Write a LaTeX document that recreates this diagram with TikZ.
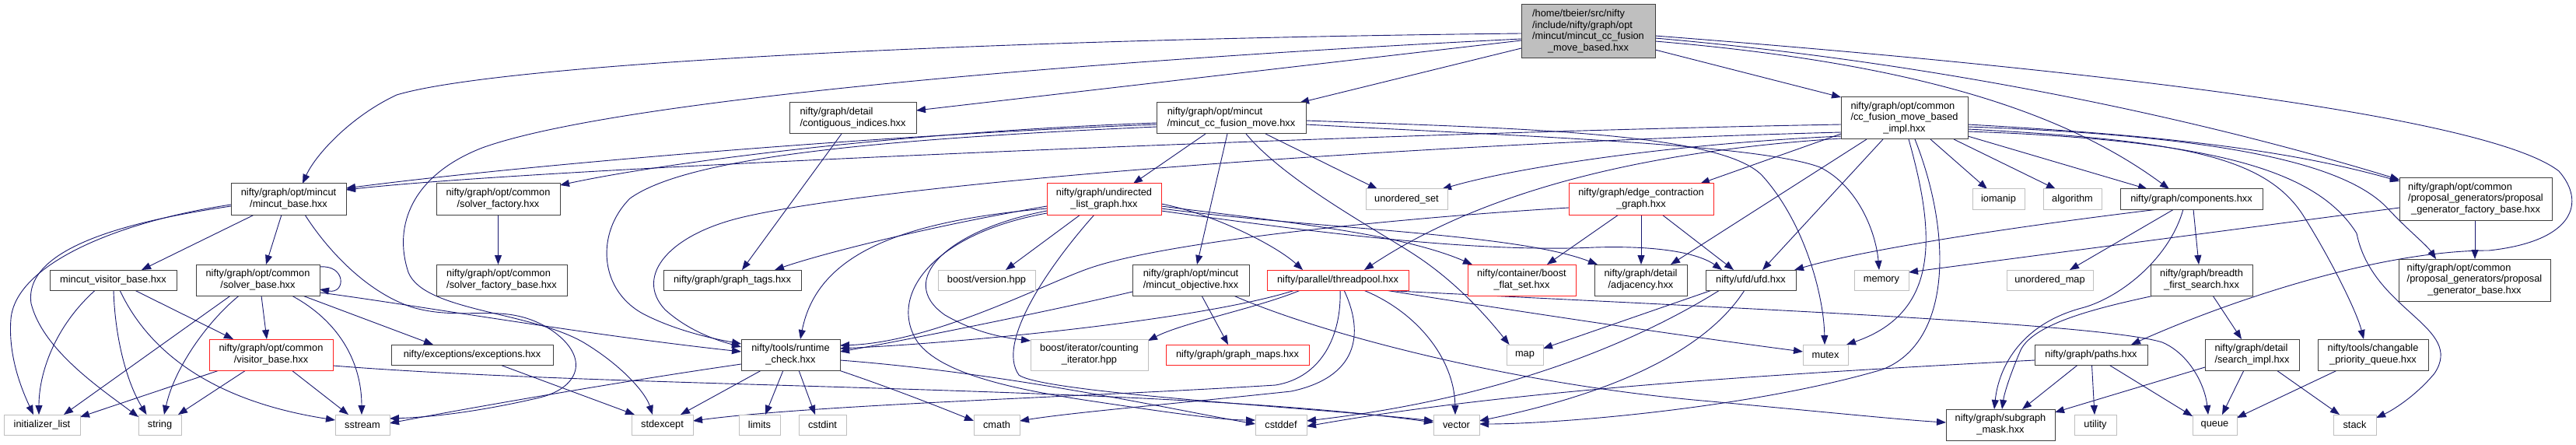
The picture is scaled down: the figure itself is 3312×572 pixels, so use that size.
\documentclass[tikz,border=0pt]{standalone}
\usepackage{fontspec}
\setmainfont{Liberation Sans}
\usetikzlibrary{arrows.meta}
\definecolor{edc}{HTML}{191970}
\definecolor{ndc}{HTML}{404040}
\definecolor{syc}{HTML}{BFBFBF}
\definecolor{rdc}{HTML}{FF2020}
\newcommand\nfont{\fontsize{12.8}{14.7}\selectfont}
\newcommand\lbltwo[2]{\begin{tabular}{@{}l@{}}#1\\\multicolumn{1}{@{}c@{}}{#2}\end{tabular}}
\newcommand\lblthree[3]{\begin{tabular}{@{}l@{}}#1\\#2\\\multicolumn{1}{@{}c@{}}{#3}\end{tabular}}
\newcommand\lblfour[4]{\begin{tabular}{@{}l@{}}#1\\#2\\#3\\\multicolumn{1}{@{}c@{}}{#4}\end{tabular}}
\pgfdeclarelayer{bg}
\pgfsetlayers{bg,main}
\begin{document}
\begin{tikzpicture}[x=1pt,y=-1pt,
  box/.style={rectangle,inner sep=0pt,outer sep=0pt,line width=1pt,fill=white,font=\nfont},
  nbox/.style={box,draw=ndc},
  rbox/.style={box,draw=rdc},
  sbox/.style={box,draw=syc},
  rootbox/.style={box,draw=ndc,fill=syc},
  wh/.style 2 args={minimum width=#1pt,minimum height=#2pt},
  edg/.style={draw=edc,line width=0.9pt,-{Triangle[length=12pt,width=9pt]}}]
\useasboundingbox (0,0) rectangle (3312,572);
% nodes
\node[rootbox,wh={172}{69}] (root) at (2042,40.5) {\lblfour{/home/tbeier/src/nifty}{/include/nifty/graph/opt}{/mincut/mincut\_cc\_fusion}{\_move\_based.hxx}};
\node[nbox,wh={163}{40}] (ctg) at (1096.5,152) {\lbltwo{nifty/graph/detail}{/contiguous\_indices.hxx}};
\node[nbox,wh={192}{40}] (mcfm) at (1583,152) {\lbltwo{nifty/graph/opt/mincut}{/mincut\_cc\_fusion\_move.hxx}};
\node[nbox,wh={163}{54}] (impl) at (2448.5,152) {\lblthree{nifty/graph/opt/common}{/cc\_fusion\_move\_based}{\_impl.hxx}};
\node[nbox,wh={196}{54}] (pgfb) at (3183,256) {\lblthree{nifty/graph/opt/common}{/proposal\_generators/proposal}{\_generator\_factory\_base.hxx}};
\node[nbox,wh={148}{40}] (mb) at (371,256) {\lbltwo{nifty/graph/opt/mincut}{/mincut\_base.hxx}};
\node[nbox,wh={159}{40}] (sf) at (640.5,256) {\lbltwo{nifty/graph/opt/common}{/solver\_factory.hxx}};
\node[rbox,wh={147}{40}] (ulg) at (1419.5,256) {\lbltwo{nifty/graph/undirected}{\_list\_graph.hxx}};
\node[sbox,wh={105}{26}] (us) at (1808.5,256) {unordered\_set};
\node[rbox,wh={186}{40}] (ec) at (2110,256) {\lbltwo{nifty/graph/edge\_contraction}{\_graph.hxx}};
\node[sbox,wh={67}{26}] (io) at (2569.5,256) {iomanip};
\node[sbox,wh={75}{26}] (alg) at (2664.5,256) {algorithm};
\node[nbox,wh={183}{26}] (comp) at (2817.5,256) {nifty/graph/components.hxx};
\node[nbox,wh={163}{26}] (mvb) at (145.5,360) {mincut\_visitor\_base.hxx};
\node[nbox,wh={159}{40}] (sb) at (331.5,360) {\lbltwo{nifty/graph/opt/common}{/solver\_base.hxx}};
\node[rbox,wh={159}{40}] (vb) at (348.5,456) {\lbltwo{nifty/graph/opt/common}{/visitor\_base.hxx}};
\node[nbox,wh={208}{26}] (exc) at (607,456) {nifty/exceptions/exceptions.hxx};
\node[sbox,wh={98}{26}] (il) at (54,546) {initializer\_list};
\node[sbox,wh={55}{26}] (str) at (205.5,546) {string};
\node[sbox,wh={70}{26}] (ss) at (466,546) {sstream};
\node[nbox,wh={168}{40}] (sfb) at (645,360) {\lbltwo{nifty/graph/opt/common}{/solver\_factory\_base.hxx}};
\node[nbox,wh={177}{26}] (gt) at (941.5,360) {nifty/graph/graph\_tags.hxx};
\node[nbox,wh={127}{40}] (rc) at (1016.5,456) {\lbltwo{nifty/tools/runtime}{\_check.hxx}};
\node[sbox,wh={79}{26}] (sx) at (851.5,546) {stdexcept};
\node[sbox,wh={53}{26}] (lim) at (976.5,546) {limits};
\node[sbox,wh={61}{26}] (cint) at (1057.5,546) {cstdint};
\node[sbox,wh={125}{26}] (bv) at (1268.5,360) {boost/version.hpp};
\node[nbox,wh={150}{40}] (mo) at (1531,360) {\lbltwo{nifty/graph/opt/mincut}{/mincut\_objective.hxx}};
\node[sbox,wh={151}{40}] (cnt) at (1400.5,456) {\lbltwo{boost/iterator/counting}{\_iterator.hpp}};
\node[rbox,wh={184}{26}] (gm) at (1591,456) {nifty/graph/graph\_maps.hxx};
\node[rbox,wh={182}{26}] (tp) at (1720,360) {nifty/parallel/threadpool.hxx};
\node[sbox,wh={59}{26}] (cm) at (1281.5,546) {cmath};
\node[sbox,wh={66}{26}] (cd) at (1647,546) {cstddef};
\node[rbox,wh={139}{40}] (bfset) at (1956.5,360) {\lbltwo{nifty/container/boost}{\_flat\_set.hxx}};
\node[nbox,wh={119}{40}] (adj) at (2109.5,360) {\lbltwo{nifty/graph/detail}{/adjacency.hxx}};
\node[sbox,wh={47}{26}] (map) at (1960.5,456) {map};
\node[sbox,wh={59}{26}] (vec) at (1872.5,546) {vector};
\node[nbox,wh={116}{26}] (ufd) at (2251,360) {nifty/ufd/ufd.hxx};
\node[sbox,wh={70}{26}] (mem) at (2419,360) {memory};
\node[sbox,wh={111}{26}] (um) at (2635.5,360) {unordered\_map};
\node[sbox,wh={58}{26}] (mtx) at (2347,456) {mutex};
\node[nbox,wh={145}{26}] (paths) at (2688.5,456) {nifty/graph/paths.hxx};
\node[nbox,wh={140}{40}] (sgm) at (2572,546) {\lbltwo{nifty/graph/subgraph}{\_mask.hxx}};
\node[sbox,wh={54}{26}] (ut) at (2694,546) {utility};
\node[nbox,wh={131}{40}] (bfs) at (2830.5,360) {\lbltwo{nifty/graph/breadth}{\_first\_search.hxx}};
\node[nbox,wh={195}{54}] (pgb) at (3181.5,360) {\lblthree{nifty/graph/opt/common}{/proposal\_generators/proposal}{\_generator\_base.hxx}};
\node[nbox,wh={121}{40}] (si) at (2895.5,456) {\lbltwo{nifty/graph/detail}{/search\_impl.hxx}};
\node[nbox,wh={142}{40}] (cpq) at (3051,456) {\lbltwo{nifty/tools/changable}{\_priority\_queue.hxx}};
\node[sbox,wh={57}{26}] (q) at (2847.5,546) {queue};
\node[sbox,wh={55}{26}] (st) at (3027.5,546) {stack};
\begin{pgfonlayer}{bg}
\fill[white] (0,0) rectangle (3312,572);
% root
\draw[edg] ([shift={(-86,2.5)}]root.center) .. controls (1300,50) and (650,80) .. (510,122) .. controls (450,150) and (405,200) .. ([shift={(18,-20)}]mb.center);
\draw[edg] ([shift={(-86,11.5)}]root.center) -- ([shift={(81.5,-10)}]ctg.center);
\draw[edg] ([shift={(-86,21.5)}]root.center) -- ([shift={(88,-20)}]mcfm.center);
\draw[edg] ([shift={(-86,9.5)}]root.center) .. controls (1450,75) and (800,125) .. (620,190) .. controls (530,225) and (505,290) .. (525,350) .. controls (545,400) and (680,400) .. (750,440) .. controls (800,470) and (830,505) .. ([shift={(-12.5,-13)}]sx.center);
\draw[edg] ([shift={(86,23.5)}]root.center) -- ([shift={(-81.5,-27)}]impl.center);
\draw[edg] ([shift={(86,12.5)}]root.center) .. controls (2450,80) and (2650,140) .. ([shift={(-28.5,-13)}]comp.center);
\draw[edg] ([shift={(86,8.5)}]root.center) .. controls (2600,90) and (2950,190) .. ([shift={(-98,-25)}]pgfb.center);
\draw[edg] ([shift={(86,5.5)}]root.center) .. controls (2700,90) and (3200,150) .. (3290,220) .. controls (3325,260) and (3310,310) .. (3200,322) .. controls (3060,322) and (2870,385) .. ([shift={(51.5,-13)}]paths.center);
% contiguous
\draw[edg] ([shift={(-14.5,20)}]ctg.center) -- ([shift={(12.5,-13)}]gt.center);
% mcfm
\draw[edg] ([shift={(-96,8)}]mcfm.center) .. controls (1100,175) and (650,215) .. ([shift={(74,-14)}]mb.center);
\draw[edg] ([shift={(-96,6)}]mcfm.center) .. controls (1150,170) and (850,210) .. ([shift={(79.5,-18)}]sf.center);
\draw[edg] ([shift={(-96,11)}]mcfm.center) .. controls (1100,180) and (880,205) .. (810,255) .. controls (765,300) and (770,375) .. (830,405) .. controls (870,425) and (915,435) .. ([shift={(-63.5,-14)}]rc.center);
\draw[edg] ([shift={(-33,20)}]mcfm.center) -- ([shift={(37.5,-20)}]ulg.center);
\draw[edg] ([shift={(-5,20)}]mcfm.center) -- ([shift={(8,-20)}]mo.center);
\draw[edg] ([shift={(19,20)}]mcfm.center) .. controls (1650,230) and (1760,290) .. (1815,325) .. controls (1870,360) and (1910,405) .. ([shift={(-20,-13)}]map.center);
\draw[edg] ([shift={(44,20)}]mcfm.center) -- ([shift={(-37.5,-13)}]us.center);
\draw[edg] ([shift={(96,3)}]mcfm.center) .. controls (1950,165) and (2210,170) .. (2265,225) .. controls (2320,285) and (2345,380) .. ([shift={(-1,-13)}]mtx.center);
\draw[edg] ([shift={(96,8)}]mcfm.center) .. controls (1950,175) and (2260,185) .. (2340,215) .. controls (2390,240) and (2412,300) .. ([shift={(-3,-13)}]mem.center);
% impl
\draw[edg] ([shift={(-81.5,8)}]impl.center) .. controls (1800,170) and (700,215) .. ([shift={(74,-12)}]mb.center);
\draw[edg] ([shift={(-81.5,18)}]impl.center) .. controls (1800,185) and (1150,235) .. (960,278) .. controls (860,300) and (815,355) .. (855,398) .. controls (885,425) and (920,437) .. ([shift={(-63.5,-10)}]rc.center);
\draw[edg] ([shift={(-81.5,26)}]impl.center) .. controls (2100,195) and (1900,250) .. ([shift={(34,-13)}]tp.center);
\draw[edg] ([shift={(-81.5,23)}]impl.center) .. controls (2150,185) and (1950,215) .. ([shift={(45.5,-13)}]us.center);
\draw[edg] ([shift={(-81.5,20)}]impl.center) -- ([shift={(76,-20)}]ec.center);
\draw[edg] ([shift={(-48.5,27)}]impl.center) -- ([shift={(38.5,-20)}]adj.center);
\draw[edg] ([shift={(-27.5,27)}]impl.center) -- ([shift={(15,-13)}]ufd.center);
\draw[edg] ([shift={(5.5,27)}]impl.center) .. controls (2485,290) and (2500,400) .. ([shift={(27,-13)}]mtx.center);
\draw[edg] ([shift={(13.5,27)}]impl.center) .. controls (2510,300) and (2510,440) .. (2420,475) .. controls (2250,525) and (2000,545) .. ([shift={(29.5,-1)}]vec.center);
\draw[edg] ([shift={(33.5,27)}]impl.center) -- ([shift={(-14.5,-13)}]io.center);
\draw[edg] ([shift={(63.5,27)}]impl.center) -- ([shift={(-21.5,-13)}]alg.center);
\draw[edg] ([shift={(81.5,23)}]impl.center) -- ([shift={(-56.5,-13)}]comp.center);
\draw[edg] ([shift={(81.5,8)}]impl.center) .. controls (2800,175) and (2950,195) .. ([shift={(-98,-23)}]pgfb.center);
\draw[edg] ([shift={(81.5,11)}]impl.center) .. controls (2880,175) and (3020,215) .. (3070,268) .. controls (3095,295) and (3120,315) .. ([shift={(-49.5,-27)}]pgb.center);
\draw[edg] ([shift={(81.5,14)}]impl.center) .. controls (2800,180) and (2910,200) .. (2960,275) .. controls (2995,330) and (3030,400) .. ([shift={(-12,-20)}]cpq.center);
\draw[edg] ([shift={(81.5,17)}]impl.center) .. controls (2850,180) and (2980,220) .. (3030,300) .. controls (3050,400) and (3170,420) .. (3130,480) .. controls (3105,510) and (3075,528) .. ([shift={(27.5,-9)}]st.center);
% mincut_base
\draw[edg] ([shift={(-44,20)}]mb.center) -- ([shift={(36.5,-13)}]mvb.center);
\draw[edg] ([shift={(-9,20)}]mb.center) -- ([shift={(10.5,-20)}]sb.center);
\draw[edg] ([shift={(-74,7)}]mb.center) .. controls (150,285) and (20,340) .. (14,410) .. controls (10,460) and (30,505) .. ([shift={(-11,-13)}]il.center);
\draw[edg] ([shift={(-74,9)}]mb.center) .. controls (160,285) and (30,320) .. (40,390) .. controls (55,450) and (130,500) .. ([shift={(-27.5,-10)}]str.center);
\draw[edg] ([shift={(21,20)}]mb.center) .. controls (420,320) and (470,375) .. (530,395) .. controls (600,415) and (650,385) .. (710,425) .. controls (760,460) and (745,500) .. (690,512) .. controls (620,528) and (560,536) .. ([shift={(35,-8)}]ss.center);
% solver_factory
\draw[edg] ([shift={(0,20)}]sf.center) -- ([shift={(-4.5,-20)}]sfb.center);
% undirected list graph
\draw[edg] ([shift={(-73.5,9)}]ulg.center) .. controls (1200,290) and (1060,325) .. ([shift={(54.5,-13)}]gt.center);
\draw[edg] ([shift={(-73.5,12)}]ulg.center) .. controls (1150,285) and (1050,330) .. ([shift={(12.5,-20)}]rc.center);
\draw[edg] ([shift={(-73.5,15)}]ulg.center) .. controls (1220,295) and (1150,360) .. (1215,405) .. controls (1255,428) and (1290,434) .. ([shift={(-75.5,-18)}]cnt.center);
\draw[edg] ([shift={(-73.5,18)}]ulg.center) .. controls (1200,300) and (1140,380) .. (1180,440) .. controls (1210,480) and (1300,500) .. (1400,515) .. controls (1500,530) and (1570,540) .. ([shift={(-33,-6)}]cd.center);
\draw[edg] ([shift={(-30.5,20)}]ulg.center) -- ([shift={(24.5,-13)}]bv.center);
\draw[edg] ([shift={(-12.5,20)}]ulg.center) .. controls (1350,340) and (1280,440) .. (1310,482) .. controls (1340,505) and (1700,525) .. ([shift={(-29.5,-5)}]vec.center);
\draw[edg] ([shift={(73.5,6)}]ulg.center) .. controls (1560,275) and (1640,315) .. ([shift={(-45,-13)}]tp.center);
\draw[edg] ([shift={(73.5,9)}]ulg.center) .. controls (1650,285) and (1800,300) .. ([shift={(-63.5,-20)}]bfset.center);
\draw[edg] ([shift={(73.5,12)}]ulg.center) .. controls (1700,295) and (1950,300) .. ([shift={(-55.5,-20)}]adj.center);
\draw[edg] ([shift={(73.5,15)}]ulg.center) .. controls (1700,300) and (1900,325) .. (2050,318) .. controls (2150,315) and (2190,330) .. ([shift={(-37,-13)}]ufd.center);
% edge contraction graph
\draw[edg] ([shift={(-29,20)}]ec.center) -- ([shift={(32.5,-20)}]bfset.center);
\draw[edg] ([shift={(0,20)}]ec.center) -- ([shift={(0.5,-20)}]adj.center);
\draw[edg] ([shift={(27,20)}]ec.center) -- ([shift={(-22,-13)}]ufd.center);
\draw[edg] ([shift={(-93,11)}]ec.center) .. controls (1800,280) and (1500,310) .. (1400,345) .. controls (1340,366) and (1200,440) .. ([shift={(63.5,-12)}]rc.center);
% mincut_visitor_base
\draw[edg] ([shift={(-23,13)}]mvb.center) .. controls (70,420) and (50,480) .. ([shift={(-4,-13)}]il.center);
\draw[edg] ([shift={(0.5,13)}]mvb.center) .. controls (148,440) and (165,495) .. ([shift={(-17,-13)}]str.center);
\draw[edg] ([shift={(8.5,13)}]mvb.center) .. controls (190,450) and (270,515) .. ([shift={(-35,-6)}]ss.center);
\draw[edg] ([shift={(27.5,13)}]mvb.center) -- ([shift={(-48.5,-20)}]vb.center);
% solver_base
\draw[edg] ([shift={(79.5,-17)}]sb.center) .. controls (445,340) and (445,378) .. ([shift={(79.5,12)}]sb.center);
\draw[edg] ([shift={(4.5,20)}]sb.center) -- ([shift={(-5.5,-20)}]vb.center);
\draw[edg] ([shift={(-35,20)}]sb.center) -- ([shift={(28,-13)}]il.center);
\draw[edg] ([shift={(-24,20)}]sb.center) .. controls (270,410) and (225,470) .. ([shift={(5.5,-13)}]str.center);
\draw[edg] ([shift={(43.5,20)}]sb.center) .. controls (440,415) and (465,470) .. ([shift={(-1,-13)}]ss.center);
\draw[edg] ([shift={(57.5,20)}]sb.center) -- ([shift={(-50,-13)}]exc.center);
\draw[edg] ([shift={(79.5,16)}]sb.center) .. controls (520,390) and (750,430) .. ([shift={(-63.5,-4)}]rc.center);
% visitor_base
\draw[edg] ([shift={(-66.5,20)}]vb.center) -- ([shift={(49,-10)}]il.center);
\draw[edg] ([shift={(-32.5,20)}]vb.center) -- ([shift={(23.5,-13)}]str.center);
\draw[edg] ([shift={(26.5,20)}]vb.center) -- ([shift={(-18,-13)}]ss.center);
\draw[edg] ([shift={(79.5,14)}]vb.center) .. controls (800,500) and (1500,495) .. ([shift={(-29.5,-3)}]vec.center);
% exceptions
\draw[edg] ([shift={(36,13)}]exc.center) -- ([shift={(-35.5,-13)}]sx.center);
% runtime_check
\draw[edg] ([shift={(-63.5,12)}]rc.center) .. controls (800,490) and (600,525) .. ([shift={(35,-2)}]ss.center);
\draw[edg] ([shift={(-37.5,20)}]rc.center) -- ([shift={(23.5,-13)}]sx.center);
\draw[edg] ([shift={(-9.5,20)}]rc.center) -- ([shift={(7.5,-13)}]lim.center);
\draw[edg] ([shift={(10.5,20)}]rc.center) -- ([shift={(-9.5,-13)}]cint.center);
\draw[edg] ([shift={(62,20)}]rc.center) .. controls (1150,500) and (1220,528) .. ([shift={(-29.5,-5)}]cm.center);
\draw[edg] ([shift={(63.5,7)}]rc.center) .. controls (1300,480) and (1500,525) .. ([shift={(-33,-1)}]cd.center);
% mincut_objective
\draw[edg] ([shift={(14,20)}]mo.center) -- ([shift={(-12,-13)}]gm.center);
\draw[edg] ([shift={(-75,15)}]mo.center) .. controls (1350,400) and (1150,440) .. ([shift={(63.5,-4)}]rc.center);
\draw[edg] ([shift={(55,20)}]mo.center) .. controls (1700,430) and (1950,495) .. (2200,516) .. controls (2350,530) and (2450,540) .. ([shift={(-70,-3)}]sgm.center);
% threadpool
\draw[edg] ([shift={(-55,13)}]tp.center) .. controls (1550,410) and (1250,440) .. ([shift={(63.5,-8)}]rc.center);
\draw[edg] ([shift={(-48,13)}]tp.center) .. controls (1620,395) and (1520,415) .. ([shift={(75.5,-18)}]cnt.center);
\draw[edg] ([shift={(3,13)}]tp.center) .. controls (1725,430) and (1700,485) .. (1640,495) .. controls (1400,510) and (1050,520) .. ([shift={(39.5,-5)}]sx.center);
\draw[edg] ([shift={(8,13)}]tp.center) .. controls (1755,430) and (1745,485) .. (1660,503) .. controls (1500,520) and (1380,530) .. ([shift={(29.5,-5)}]cm.center);
\draw[edg] ([shift={(33,13)}]tp.center) .. controls (1820,400) and (1870,460) .. ([shift={(-1.5,-13)}]vec.center);
\draw[edg] ([shift={(61,13)}]tp.center) .. controls (1950,400) and (2150,430) .. ([shift={(-29,-4)}]mtx.center);
\draw[edg] ([shift={(56,13)}]tp.center) .. controls (2200,395) and (2700,415) .. (2780,440) .. controls (2815,455) and (2835,495) .. ([shift={(-8.5,-13)}]q.center);
% ufd
\draw[edg] ([shift={(-50,13)}]ufd.center) -- ([shift={(23.5,-8)}]map.center);
\draw[edg] ([shift={(-40,13)}]ufd.center) .. controls (2120,430) and (1950,510) .. ([shift={(33,-5)}]cd.center);
\draw[edg] ([shift={(-8,13)}]ufd.center) .. controls (2200,440) and (2100,500) .. ([shift={(29.5,-5)}]vec.center);
% components
\draw[edg] ([shift={(-42.5,13)}]comp.center) .. controls (2600,290) and (2400,320) .. ([shift={(56,-13)}]ufd.center);
\draw[edg] ([shift={(-22.5,13)}]comp.center) -- ([shift={(25.5,-13)}]um.center);
\draw[edg] ([shift={(2.5,13)}]comp.center) -- ([shift={(-3.5,-20)}]bfs.center);
\draw[edg] ([shift={(-10.5,13)}]comp.center) .. controls (2790,330) and (2730,380) .. (2680,395) .. controls (2600,415) and (2570,470) .. ([shift={(-8,-20)}]sgm.center);
% breadth first search
\draw[edg] ([shift={(14.5,20)}]bfs.center) -- ([shift={(-13.5,-20)}]si.center);
\draw[edg] ([shift={(-61,20)}]bfs.center) .. controls (2700,395) and (2615,415) .. (2598,450) .. controls (2585,480) and (2577,505) .. ([shift={(2,-20)}]sgm.center);
% paths
\draw[edg] ([shift={(-17,13)}]paths.center) -- ([shift={(28,-20)}]sgm.center);
\draw[edg] ([shift={(1,13)}]paths.center) -- ([shift={(-1,-13)}]ut.center);
\draw[edg] ([shift={(23,13)}]paths.center) -- ([shift={(-28.5,-11)}]q.center);
\draw[edg] ([shift={(-72.5,7)}]paths.center) .. controls (2300,480) and (1950,500) .. ([shift={(33,2)}]cd.center);
% search_impl
\draw[edg] ([shift={(-10.5,20)}]si.center) -- ([shift={(9.5,-13)}]q.center);
\draw[edg] ([shift={(31.5,20)}]si.center) -- ([shift={(-19.5,-13)}]st.center);
\draw[edg] ([shift={(-60.5,16)}]si.center) -- ([shift={(70,-16)}]sgm.center);
% changable priority queue
\draw[edg] ([shift={(-46,20)}]cpq.center) -- ([shift={(28.5,-9)}]q.center);
% proposal generator factory base
\draw[edg] ([shift={(-1,27)}]pgfb.center) -- ([shift={(0.5,-27)}]pgb.center);
\draw[edg] ([shift={(-98,11)}]pgfb.center) -- ([shift={(35,-10)}]mem.center);
\end{pgfonlayer}
\end{tikzpicture}
\end{document}
